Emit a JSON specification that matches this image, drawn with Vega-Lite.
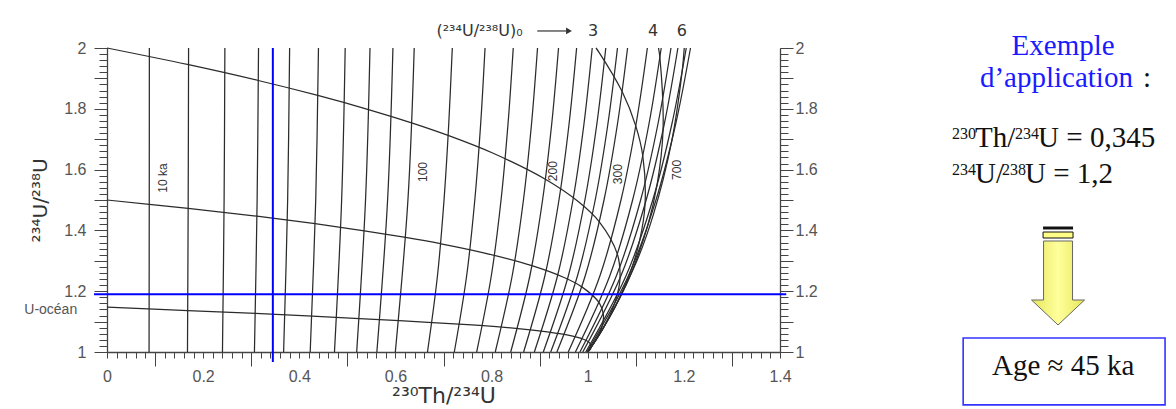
{
  "$schema": "https://vega.github.io/schema/vega-lite/v6.json",
  "width": 673,
  "height": 304,
  "autosize": {"type": "none"},
  "padding": {"left": 107, "top": 48, "right": 396, "bottom": 57},
  "background": "white",
  "config": {"view": {"stroke": null}, "axis": {"grid": false}},
  "datasets": {
    "iso": [
      {"t":10,"a":1,"x":0.0875},{"t":10,"a":1.5,"x":0.0879},{"t":10,"a":2,"x":0.0881},
      {"t":20,"a":1,"x":0.1674},{"t":20,"a":1.5,"x":0.1689},{"t":20,"a":2,"x":0.1697},
      {"t":30,"a":1,"x":0.2402},{"t":30,"a":1.5,"x":0.2436},{"t":30,"a":2,"x":0.2452},
      {"t":40,"a":1,"x":0.3067},{"t":40,"a":1.5,"x":0.3123},{"t":40,"a":2,"x":0.3152},
      {"t":50,"a":1,"x":0.3674},{"t":50,"a":1.5,"x":0.3758},{"t":50,"a":2,"x":0.3799},
      {"t":60,"a":1,"x":0.4227},{"t":60,"a":1.5,"x":0.4342},{"t":60,"a":2,"x":0.4399},
      {"t":70,"a":1,"x":0.4732},{"t":70,"a":1.5,"x":0.4881},{"t":70,"a":2,"x":0.4955},
      {"t":80,"a":1,"x":0.5194},{"t":80,"a":1.5,"x":0.5378},{"t":80,"a":2,"x":0.5471},
      {"t":90,"a":1,"x":0.5614},{"t":90,"a":1.5,"x":0.5837},{"t":90,"a":2,"x":0.5948},
      {"t":100,"a":1,"x":0.5998},{"t":100,"a":1.5,"x":0.6260},{"t":100,"a":2,"x":0.6391},
      {"t":120,"a":1,"x":0.6667},{"t":120,"a":1.25,"x":0.6874},{"t":120,"a":1.5,"x":0.7011},{"t":120,"a":1.75,"x":0.7109},{"t":120,"a":2,"x":0.7183},
      {"t":140,"a":1,"x":0.7225},{"t":140,"a":1.25,"x":0.7481},{"t":140,"a":1.5,"x":0.7651},{"t":140,"a":1.75,"x":0.7773},{"t":140,"a":2,"x":0.7864},
      {"t":160,"a":1,"x":0.7690},{"t":160,"a":1.25,"x":0.7994},{"t":160,"a":1.5,"x":0.8197},{"t":160,"a":1.75,"x":0.8342},{"t":160,"a":2,"x":0.8451},
      {"t":180,"a":1,"x":0.8077},{"t":180,"a":1.25,"x":0.8428},{"t":180,"a":1.5,"x":0.8663},{"t":180,"a":1.75,"x":0.8831},{"t":180,"a":2,"x":0.8956},
      {"t":200,"a":1,"x":0.8398},{"t":200,"a":1.25,"x":0.8796},{"t":200,"a":1.5,"x":0.9061},{"t":200,"a":1.75,"x":0.9251},{"t":200,"a":2,"x":0.9393},
      {"t":220,"a":1,"x":0.8667},{"t":220,"a":1.25,"x":0.9108},{"t":220,"a":1.5,"x":0.9402},{"t":220,"a":1.75,"x":0.9612},{"t":220,"a":2,"x":0.9769},
      {"t":240,"a":1,"x":0.8890},{"t":240,"a":1.25,"x":0.9371},{"t":240,"a":1.5,"x":0.9693},{"t":240,"a":1.75,"x":0.9922},{"t":240,"a":2,"x":1.0094},
      {"t":260,"a":1,"x":0.9076},{"t":260,"a":1.25,"x":0.9596},{"t":260,"a":1.5,"x":0.9942},{"t":260,"a":1.75,"x":1.0190},{"t":260,"a":2,"x":1.0376},
      {"t":280,"a":1,"x":0.9230},{"t":280,"a":1.25,"x":0.9786},{"t":280,"a":1.5,"x":1.0156},{"t":280,"a":1.75,"x":1.0420},{"t":280,"a":2,"x":1.0619},
      {"t":300,"a":1,"x":0.9359},{"t":300,"a":1.25,"x":0.9947},{"t":300,"a":1.5,"x":1.0339},{"t":300,"a":1.75,"x":1.0619},{"t":300,"a":2,"x":1.0829},
      {"t":350,"a":1,"x":0.9595},{"t":350,"a":1.25,"x":1.0253},{"t":350,"a":1.5,"x":1.0692},{"t":350,"a":1.75,"x":1.1006},{"t":350,"a":2,"x":1.1241},
      {"t":400,"a":1,"x":0.9744},{"t":400,"a":1.25,"x":1.0458},{"t":400,"a":1.5,"x":1.0934},{"t":400,"a":1.75,"x":1.1274},{"t":400,"a":2,"x":1.1529},
      {"t":450,"a":1,"x":0.9838},{"t":450,"a":1.25,"x":1.0595},{"t":450,"a":1.5,"x":1.1101},{"t":450,"a":1.75,"x":1.1461},{"t":450,"a":2,"x":1.1732},
      {"t":500,"a":1,"x":0.9897},{"t":500,"a":1.25,"x":1.0689},{"t":500,"a":1.5,"x":1.1216},{"t":500,"a":1.75,"x":1.1593},{"t":500,"a":2,"x":1.1876},
      {"t":600,"a":1,"x":0.9959},{"t":600,"a":1.25,"x":1.0795},{"t":600,"a":1.5,"x":1.1353},{"t":600,"a":1.75,"x":1.1751},{"t":600,"a":2,"x":1.2050},
      {"t":700,"a":1,"x":0.9984},{"t":700,"a":1.25,"x":1.0845},{"t":700,"a":1.5,"x":1.1420},{"t":700,"a":1.75,"x":1.1830},{"t":700,"a":2,"x":1.2138}
    ],
    "growth": [
      {"g":1.15,"t":0,"x":0,"a":1.148},{"g":1.15,"t":20,"x":0.168,"a":1.136},{"g":1.15,"t":40,"x":0.309,"a":1.127},{"g":1.15,"t":60,"x":0.427,"a":1.118},
      {"g":1.15,"t":80,"x":0.525,"a":1.110},{"g":1.15,"t":100,"x":0.608,"a":1.103},{"g":1.15,"t":120,"x":0.677,"a":1.097},{"g":1.15,"t":150,"x":0.759,"a":1.089},
      {"g":1.15,"t":200,"x":0.855,"a":1.077},{"g":1.15,"t":250,"x":0.916,"a":1.066},{"g":1.15,"t":300,"x":0.954,"a":1.057},{"g":1.15,"t":400,"x":0.991,"a":1.042},
      {"g":1.15,"t":500,"x":1.004,"a":1.030},{"g":1.15,"t":700,"x":1.007,"a":1.016},{"g":1.15,"t":1000,"x":1.004,"a":1.006},{"g":1.15,"t":1500,"x":1.001,"a":1.001},
      {"g":1.5,"t":0,"x":0,"a":1.5},{"g":1.5,"t":20,"x":0.1689,"a":1.4725},{"g":1.5,"t":40,"x":0.3119,"a":1.4466},{"g":1.5,"t":60,"x":0.4329,"a":1.4220},
      {"g":1.5,"t":80,"x":0.5352,"a":1.3988},{"g":1.5,"t":100,"x":0.6213,"a":1.3769},{"g":1.5,"t":120,"x":0.6938,"a":1.3562},{"g":1.5,"t":150,"x":0.7813,"a":1.3272},
      {"g":1.5,"t":200,"x":0.8838,"a":1.2841},{"g":1.5,"t":250,"x":0.9483,"a":1.2467},{"g":1.5,"t":300,"x":0.9878,"a":1.2142},{"g":1.5,"t":400,"x":1.0240,"a":1.1614},
      {"g":1.5,"t":500,"x":1.0327,"a":1.1217},{"g":1.5,"t":600,"x":1.0310,"a":1.0917},{"g":1.5,"t":700,"x":1.0262,"a":1.0692},{"g":1.5,"t":1000,"x":1.0127,"a":1.0296},
      {"g":1.5,"t":1500,"x":1.0032,"a":1.0072},
      {"g":2,"t":0,"x":0,"a":2},{"g":2,"t":20,"x":0.1696,"a":1.9450},{"g":2,"t":40,"x":0.3147,"a":1.8931},{"g":2,"t":60,"x":0.4385,"a":1.8440},
      {"g":2,"t":80,"x":0.5439,"a":1.7976},{"g":2,"t":100,"x":0.6336,"a":1.7538},{"g":2,"t":120,"x":0.7096,"a":1.7124},{"g":2,"t":150,"x":0.8022,"a":1.6545},
      {"g":2,"t":200,"x":0.9119,"a":1.5682},{"g":2,"t":250,"x":0.9815,"a":1.4934},{"g":2,"t":300,"x":1.0241,"a":1.4283},{"g":2,"t":400,"x":1.0615,"a":1.3229},
      {"g":2,"t":500,"x":1.0672,"a":1.2434},{"g":2,"t":600,"x":1.0607,"a":1.1835},{"g":2,"t":700,"x":1.0507,"a":1.1383},{"g":2,"t":850,"x":1.0361,"a":1.0905},
      {"g":2,"t":1000,"x":1.0247,"a":1.0592},{"g":2,"t":1500,"x":1.0064,"a":1.0144},{"g":2,"t":2500,"x":1.0004,"a":1.0009},
      {"g":3,"t":245,"x":1.0172,"a":2},{"g":3,"t":250,"x":1.0232,"a":1.9867},{"g":3,"t":300,"x":1.0716,"a":1.8566},{"g":3,"t":350,"x":1.0999,"a":1.7437},
      {"g":3,"t":400,"x":1.1145,"a":1.6458},{"g":3,"t":500,"x":1.1193,"a":1.4868},{"g":3,"t":600,"x":1.1081,"a":1.3670},{"g":3,"t":700,"x":1.0917,"a":1.2766},
      {"g":3,"t":850,"x":1.0670,"a":1.1810},{"g":3,"t":1000,"x":1.0469,"a":1.1185},{"g":3,"t":1500,"x":1.0125,"a":1.0288},{"g":3,"t":2500,"x":1.0008,"a":1.0017},
      {"g":4,"t":389,"x":1.1473,"a":2},{"g":4,"t":400,"x":1.1501,"a":1.9686},{"g":4,"t":500,"x":1.1567,"a":1.7301},{"g":4,"t":600,"x":1.1443,"a":1.5504},
      {"g":4,"t":700,"x":1.1247,"a":1.4149},{"g":4,"t":850,"x":1.0936,"a":1.2715},{"g":4,"t":1000,"x":1.0669,"a":1.1777},{"g":4,"t":1500,"x":1.0185,"a":1.0433},
      {"g":4,"t":2500,"x":1.0011,"a":1.0026},
      {"g":6,"t":570,"x":1.2008,"a":2},{"g":6,"t":600,"x":1.1960,"a":1.9174},{"g":6,"t":700,"x":1.1745,"a":1.6915},{"g":6,"t":850,"x":1.1367,"a":1.4525},
      {"g":6,"t":1000,"x":1.1013,"a":1.2962},{"g":6,"t":1500,"x":1.0300,"a":1.0721},{"g":6,"t":2000,"x":1.0077,"a":1.0175},{"g":6,"t":2500,"x":1.0019,"a":1.0043}
    ],
    "blue": [
      {"x":-0.027,"x2":1.413,"a":1.19,"a2":1.19},
      {"x":0.345,"x2":0.345,"a":0.967,"a2":2}
    ],
    "curveLabels": [
      {"x":0.1165,"a":1.572,"label":"10 ka"},
      {"x":0.657,"a":1.592,"label":"100"},
      {"x":0.928,"a":1.595,"label":"200"},
      {"x":1.063,"a":1.585,"label":"300"},
      {"x":1.186,"a":1.599,"label":"700"}
    ],
    "topLabels": [
      {"x":0.775,"a":2.056,"label":"(²³⁴U/²³⁸U)₀"},
      {"x":1.011,"a":2.056,"label":"3"},
      {"x":1.136,"a":2.056,"label":"4"},
      {"x":1.196,"a":2.056,"label":"6"}
    ],
    "topArrow": [{"x":0.895,"x2":0.955,"a":2.056}],
    "topArrowHead": [{"x":0.961,"a":2.056}],
    "ocean": [{"x":-0.062,"a":1.138,"label":"U-océan"}],
    "blueText": [
      {"x":1.989,"a":1.977,"label":"Exemple"},
      {"x":1.975,"a":1.872,"label":"d’application"}
    ],
    "blackText": [
      {"x":2.155,"a":1.872,"label":":"},
      {"x":1.8057,"a":1.674,"label":"Th/"},
      {"x":1.9369,"a":1.674,"label":"U = 0,345"},
      {"x":1.8057,"a":1.556,"label":"U/"},
      {"x":1.9098,"a":1.556,"label":"U = 1,2"}
    ],
    "supText": [
      {"x":1.7578,"a":1.7007,"label":"230"},
      {"x":1.8890,"a":1.7007,"label":"234"},
      {"x":1.7578,"a":1.5822,"label":"234"},
      {"x":1.8619,"a":1.5822,"label":"238"}
    ],
    "bigArrow": [{"x":1.9784,"a":1.227}],
    "blackBar": [{"x":1.9472,"x2":2.0096,"a":1.4128,"a2":1.4030}],
    "yellowBar": [{"x":1.9472,"x2":2.0096,"a":1.3947,"a2":1.375}],
    "ageBox": [{"x":1.781,"x2":2.201,"a":0.826,"a2":1.046}],
    "ageText": [{"x":1.989,"a":0.924,"label":"Age ≈ 45 ka"}]
  },
  "resolve": {"axis": {"x": "independent", "y": "independent"}},
  "layer": [
    {
      "data": {"name": "iso"},
      "mark": {"type": "line", "color": "#2b2b2b", "strokeWidth": 1.25, "interpolate": "catmull-rom"},
      "encoding": {
        "x": {"field": "x", "type": "quantitative", "scale": {"domain": [0, 1.4], "nice": false, "zero": false},
          "axis": {"orient": "bottom",
            "values": [0,0.02,0.04,0.06,0.08,0.1,0.12,0.14,0.16,0.18,0.2,0.22,0.24,0.26,0.28,0.3,0.32,0.34,0.36,0.38,0.4,0.42,0.44,0.46,0.48,0.5,0.52,0.54,0.56,0.58,0.6,0.62,0.64,0.66,0.68,0.7,0.72,0.74,0.76,0.78,0.8,0.82,0.84,0.86,0.88,0.9,0.92,0.94,0.96,0.98,1,1.02,1.04,1.06,1.08,1.1,1.12,1.14,1.16,1.18,1.2,1.22,1.24,1.26,1.28,1.3,1.32,1.34,1.36,1.38,1.4],
            "tickSize": 6, "tickColor": "#444", "tickWidth": 1, "domainColor": "#444", "domainWidth": 1.3,
            "labelExpr": "abs(datum.value*5 - round(datum.value*5)) < 0.001 ? format(datum.value, '~g') : ''",
            "labelFont": "Liberation Sans", "labelFontSize": 16, "labelColor": "#555", "labelPadding": 10,
            "labelOverlap": false, "labelFlush": false,
            "title": "²³⁰Th/²³⁴U", "titleFont": "DejaVu Sans", "titleFontSize": 22, "titleFontWeight": "normal",
            "titleColor": "#333", "titleBaseline": "alphabetic", "titleY": 50}},
        "y": {"field": "a", "type": "quantitative", "scale": {"domain": [1, 2], "nice": false, "zero": false},
          "axis": {"orient": "left",
            "values": [1,1.02,1.04,1.06,1.08,1.1,1.12,1.14,1.16,1.18,1.2,1.22,1.24,1.26,1.28,1.3,1.32,1.34,1.36,1.38,1.4,1.42,1.44,1.46,1.48,1.5,1.52,1.54,1.56,1.58,1.6,1.62,1.64,1.66,1.68,1.7,1.72,1.74,1.76,1.78,1.8,1.82,1.84,1.86,1.88,1.9,1.92,1.94,1.96,1.98,2],
            "tickSize": 8, "tickColor": "#444", "tickWidth": 1, "domainColor": "#444", "domainWidth": 1.3,
            "labelExpr": "abs(datum.value*5 - round(datum.value*5)) < 0.001 ? format(datum.value, '~g') : ''",
            "labelFont": "Liberation Sans", "labelFontSize": 16, "labelColor": "#555", "labelPadding": 13,
            "labelOverlap": false, "labelFlush": false,
            "title": "²³⁴U/²³⁸U", "titleFont": "DejaVu Sans", "titleFontSize": 20, "titleFontWeight": "normal",
            "titleColor": "#333", "titleBaseline": "alphabetic", "titleX": -61}},
        "detail": {"field": "t", "type": "nominal"},
        "order": {"field": "a", "type": "quantitative"}
      }
    },
    {
      "data": {"name": "growth"},
      "mark": {"type": "line", "color": "#2b2b2b", "strokeWidth": 1.25, "interpolate": "catmull-rom"},
      "encoding": {
        "x": {"field": "x", "type": "quantitative",
          "axis": {"orient": "bottom", "values": [0.1,0.3,0.5,0.7,0.9,1.1,1.3], "tickSize": 14, "tickColor": "#444",
            "labels": false, "domain": false, "title": null}},
        "y": {"field": "a", "type": "quantitative",
          "axis": {"orient": "left", "values": [1,1.1,1.2,1.3,1.4,1.5,1.6,1.7,1.8,1.9,2], "tickSize": 13, "tickColor": "#444",
            "labels": false, "domain": false, "title": null}},
        "detail": {"field": "g", "type": "nominal"},
        "order": {"field": "t", "type": "quantitative"}
      }
    },
    {
      "data": {"name": "blue"},
      "mark": {"type": "rule", "color": "#0000ff", "strokeWidth": 2},
      "encoding": {
        "x": {"field": "x", "type": "quantitative", "axis": null},
        "x2": {"field": "x2"},
        "y": {"field": "a", "type": "quantitative",
          "axis": {"orient": "right",
            "values": [1,1.02,1.04,1.06,1.08,1.1,1.12,1.14,1.16,1.18,1.2,1.22,1.24,1.26,1.28,1.3,1.32,1.34,1.36,1.38,1.4,1.42,1.44,1.46,1.48,1.5,1.52,1.54,1.56,1.58,1.6,1.62,1.64,1.66,1.68,1.7,1.72,1.74,1.76,1.78,1.8,1.82,1.84,1.86,1.88,1.9,1.92,1.94,1.96,1.98,2],
            "tickSize": 8, "tickColor": "#444", "tickWidth": 1, "domainColor": "#444", "domainWidth": 1.3,
            "labelExpr": "abs(datum.value*5 - round(datum.value*5)) < 0.001 ? format(datum.value, '~g') : ''",
            "labelFont": "Liberation Sans", "labelFontSize": 16, "labelColor": "#555", "labelPadding": 7,
            "labelOverlap": false, "labelFlush": false, "title": null}},
        "y2": {"field": "a2"}
      }
    },
    {
      "data": {"name": "curveLabels"},
      "mark": {"type": "text", "angle": 270, "fontSize": 12, "font": "Liberation Sans", "color": "#333", "align": "center", "baseline": "middle"},
      "encoding": {
        "x": {"field": "x", "type": "quantitative", "axis": null},
        "y": {"field": "a", "type": "quantitative",
          "axis": {"orient": "right", "values": [1,1.1,1.2,1.3,1.4,1.5,1.6,1.7,1.8,1.9,2], "tickSize": 13, "tickColor": "#444",
            "labels": false, "domain": false, "title": null}},
        "text": {"field": "label"}
      }
    },
    {
      "data": {"name": "topLabels"},
      "mark": {"type": "text", "fontSize": 16, "font": "DejaVu Sans", "color": "#333", "align": "center", "baseline": "middle"},
      "encoding": {
        "x": {"field": "x", "type": "quantitative", "axis": null},
        "y": {"field": "a", "type": "quantitative", "axis": null},
        "text": {"field": "label"}
      }
    },
    {
      "data": {"name": "topArrow"},
      "mark": {"type": "rule", "color": "#333", "strokeWidth": 1.2},
      "encoding": {
        "x": {"field": "x", "type": "quantitative", "axis": null},
        "x2": {"field": "x2"},
        "y": {"field": "a", "type": "quantitative", "axis": null}
      }
    },
    {
      "data": {"name": "topArrowHead"},
      "mark": {"type": "point", "shape": "triangle-right", "size": 45, "filled": true, "color": "#333", "opacity": 1},
      "encoding": {
        "x": {"field": "x", "type": "quantitative", "axis": null},
        "y": {"field": "a", "type": "quantitative", "axis": null}
      }
    },
    {
      "data": {"name": "ocean"},
      "mark": {"type": "text", "fontSize": 14, "font": "Liberation Sans", "color": "#555", "align": "right", "baseline": "middle"},
      "encoding": {
        "x": {"field": "x", "type": "quantitative", "axis": null},
        "y": {"field": "a", "type": "quantitative", "axis": null},
        "text": {"field": "label"}
      }
    },
    {
      "data": {"name": "blueText"},
      "mark": {"type": "text", "fontSize": 29, "font": "Liberation Serif", "color": "#1a1aff", "align": "center", "baseline": "alphabetic"},
      "encoding": {
        "x": {"field": "x", "type": "quantitative", "axis": null},
        "y": {"field": "a", "type": "quantitative", "axis": null},
        "text": {"field": "label"}
      }
    },
    {
      "data": {"name": "blackText"},
      "mark": {"type": "text", "fontSize": 29, "font": "Liberation Serif", "color": "#111", "align": "left", "baseline": "alphabetic"},
      "encoding": {
        "x": {"field": "x", "type": "quantitative", "axis": null},
        "y": {"field": "a", "type": "quantitative", "axis": null},
        "text": {"field": "label"}
      }
    },
    {
      "data": {"name": "supText"},
      "mark": {"type": "text", "fontSize": 16, "font": "Liberation Serif", "color": "#111", "align": "left", "baseline": "alphabetic"},
      "encoding": {
        "x": {"field": "x", "type": "quantitative", "axis": null},
        "y": {"field": "a", "type": "quantitative", "axis": null},
        "text": {"field": "label"}
      }
    },
    {
      "data": {"name": "blackBar"},
      "mark": {"type": "rect", "color": "#111"},
      "encoding": {
        "x": {"field": "x", "type": "quantitative", "axis": null},
        "x2": {"field": "x2"},
        "y": {"field": "a", "type": "quantitative", "axis": null},
        "y2": {"field": "a2"}
      }
    },
    {
      "data": {"name": "yellowBar"},
      "mark": {"type": "rect", "fill": "#ffff88", "stroke": "#111", "strokeWidth": 1},
      "encoding": {
        "x": {"field": "x", "type": "quantitative", "axis": null},
        "x2": {"field": "x2"},
        "y": {"field": "a", "type": "quantitative", "axis": null},
        "y2": {"field": "a2"}
      }
    },
    {
      "data": {"name": "bigArrow"},
      "mark": {"type": "point", "shape": "M-0.345,-1L0.345,-1L0.345,0.405L0.631,0.405L0,1L-0.631,0.405L-0.345,0.405Z",
        "size": 7056, "filled": true, "opacity": 1,
        "fill": {"gradient": "linear", "x1": 0, "y1": 0, "x2": 1, "y2": 0,
          "stops": [{"offset": 0, "color": "#e6e65c"}, {"offset": 0.5, "color": "#ffff9c"}, {"offset": 1, "color": "#e6e65c"}]},
        "stroke": "#666", "strokeWidth": 1},
      "encoding": {
        "x": {"field": "x", "type": "quantitative", "axis": null},
        "y": {"field": "a", "type": "quantitative", "axis": null}
      }
    },
    {
      "data": {"name": "ageBox"},
      "mark": {"type": "rect", "fill": "white", "stroke": "#3333ff", "strokeWidth": 1.6},
      "encoding": {
        "x": {"field": "x", "type": "quantitative", "axis": null},
        "x2": {"field": "x2"},
        "y": {"field": "a", "type": "quantitative", "axis": null},
        "y2": {"field": "a2"}
      }
    },
    {
      "data": {"name": "ageText"},
      "mark": {"type": "text", "fontSize": 29, "font": "Liberation Serif", "color": "#111", "align": "center", "baseline": "alphabetic"},
      "encoding": {
        "x": {"field": "x", "type": "quantitative", "axis": null},
        "y": {"field": "a", "type": "quantitative", "axis": null},
        "text": {"field": "label"}
      }
    }
  ]
}
